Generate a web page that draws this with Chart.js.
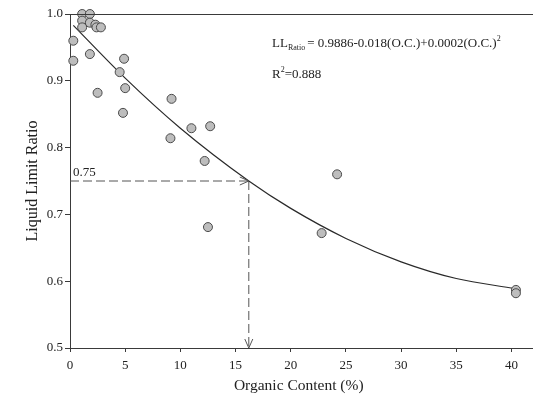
<!doctype html>
<html lang="en">
<head>
<meta charset="UTF-8">
<script src="https://cdn.jsdelivr.net/npm/chart.js@4.4.1/dist/chart.umd.min.js"></script>
<title>Liquid Limit Ratio vs Organic Content</title>
<style>
  *, ::before, ::after { margin: 0; padding: 0; box-sizing: border-box; }
  body { background: #fff; }
  .container { width: 533px; height: 405px; position: relative; }
</style>
</head>
<body>
<div class="container"><canvas id="canvas"></canvas></div>
<script>
// measured points (organic content %, liquid limit ratio)
const organic = [1.1, 1.8, 1.1, 1.8, 1.1, 2.3, 2.4, 2.8, 0.3, 0.3, 1.8, 4.9, 4.5, 5.0, 2.5, 9.2, 4.8,
                 11.0, 12.7, 9.1, 12.2, 12.5, 24.2, 22.8, 40.4, 40.4];
const llRatio = [1.0, 1.0, 0.99, 0.987, 0.98, 0.984, 0.98, 0.98, 0.96, 0.93, 0.94, 0.933, 0.913, 0.889, 0.882, 0.873, 0.852,
                 0.829, 0.832, 0.814, 0.78, 0.681, 0.76, 0.672, 0.587, 0.582];

// fitted curve
const fitX = [0.3, 5, 10, 16.2, 20, 25, 30, 35, 40.3];
const fitY = [0.983, 0.904, 0.829, 0.750, 0.709, 0.664, 0.629, 0.604, 0.589];

// reading of the 0.75 ratio
const readLevel = 0.75;
const readContent = 16.2;

const xTicks = [0, 5, 10, 15, 20, 25, 30, 35, 40];
const yTicks = [0.5, 0.6, 0.7, 0.8, 0.9, 1.0];

const serif = "'Liberation Serif', 'Times New Roman', serif";
const ink = '#3a3a3a';

const points = organic.map((x, i) => ({ x: x, y: llRatio[i] }));
const curve = fitX.map((x, i) => ({ x: x, y: fitY[i] }));

// frame lines running to the right edge, arrow heads, equation text
const extras = {
    id: 'extras',
    afterDatasetsDraw(chart) {
        const ctx = chart.ctx;
        const area = chart.chartArea;
        const xs = chart.scales.x, ys = chart.scales.y;
        ctx.save();
        ctx.strokeStyle = ink;
        ctx.lineWidth = 1;
        ctx.beginPath();
        ctx.moveTo(area.left, area.top + 0.5);
        ctx.lineTo(chart.width, area.top + 0.5);
        ctx.moveTo(area.right - 1, area.bottom + 0.5);
        ctx.lineTo(chart.width, area.bottom + 0.5);
        ctx.stroke();

        const px = xs.getPixelForValue(readContent);
        const py = ys.getPixelForValue(readLevel);
        const pb = ys.getPixelForValue(yTicks[0]);
        ctx.strokeStyle = '#555';
        ctx.beginPath();
        ctx.moveTo(px - 9, py - 4);
        ctx.lineTo(px, py);
        ctx.lineTo(px - 9, py + 4);
        ctx.moveTo(px - 4, pb - 9);
        ctx.lineTo(px, pb);
        ctx.lineTo(px + 4, pb - 9);
        ctx.stroke();

        ctx.fillStyle = '#222';
        ctx.textBaseline = 'alphabetic';
        ctx.font = '13px ' + serif;
        ctx.fillText(readLevel.toFixed(2), area.left + 3, py - 5);

        // equation
        let x = 272, y = 47;
        ctx.font = '13px ' + serif;
        ctx.fillText('LL', x, y);
        x += ctx.measureText('LL').width;
        ctx.font = '8px ' + serif;
        ctx.fillText('Ratio', x, y + 3);
        x += ctx.measureText('Ratio').width + 2;
        ctx.font = '13px ' + serif;
        const eq = '= 0.9886-0.018(O.C.)+0.0002(O.C.)';
        ctx.fillText(eq, x, y);
        x += ctx.measureText(eq).width;
        ctx.font = '8px ' + serif;
        ctx.fillText('2', x, y - 6);

        x = 272; y = 78;
        ctx.font = '13px ' + serif;
        ctx.fillText('R', x, y);
        x += ctx.measureText('R').width;
        ctx.font = '8px ' + serif;
        ctx.fillText('2', x, y - 6);
        x += ctx.measureText('2').width;
        ctx.font = '13px ' + serif;
        ctx.fillText('=0.888', x, y);
        ctx.restore();
    }
};

new Chart(document.getElementById('canvas'), {
    type: 'scatter',
    data: {
        datasets: [
            {
                label: 'Data',
                data: points,
                pointRadius: 4.5,
                pointBackgroundColor: '#bdbdbd',
                pointBorderColor: '#4a4a4a',
                pointBorderWidth: 1,
                clip: false,
                order: 0
            },
            {
                type: 'line',
                label: 'Fit',
                data: curve,
                borderColor: '#2a2a2a',
                borderWidth: 1.2,
                pointRadius: 0,
                cubicInterpolationMode: 'monotone',
                fill: false,
                order: 1
            },
            {
                type: 'line',
                label: 'h',
                data: [{ x: 0, y: readLevel }, { x: readContent, y: readLevel }],
                borderColor: '#555',
                borderWidth: 1,
                borderDash: [9, 4],
                pointRadius: 0,
                fill: false,
                order: 2
            },
            {
                type: 'line',
                label: 'v',
                data: [{ x: readContent, y: readLevel }, { x: readContent, y: yTicks[0] }],
                borderColor: '#555',
                borderWidth: 1,
                borderDash: [9, 4],
                pointRadius: 0,
                fill: false,
                order: 2
            }
        ]
    },
    options: {
        responsive: true,
        maintainAspectRatio: false,
        animation: false,
        layout: { padding: { top: 14, right: 0, left: 0, bottom: 0 } },
        plugins: {
            legend: { display: false },
            tooltip: { enabled: false }
        },
        scales: {
            x: {
                type: 'linear',
                min: 0,
                max: 41.45,
                afterBuildTicks: (s) => { s.ticks = xTicks.map(v => ({ value: v })); },
                afterFit: (s) => { s.height = 57; },
                grid: { drawOnChartArea: false, drawTicks: true, tickLength: 4, color: ink },
                border: { display: true, color: ink, width: 1 },
                ticks: { color: '#222', font: { family: serif, size: 13 }, padding: 6, maxRotation: 0 },
                title: { display: true, text: 'Organic Content (%)', color: '#222',
                         font: { family: serif, size: 15.5 }, padding: { top: 0, bottom: 10 } }
            },
            y: {
                min: 0.5,
                max: 1.0,
                afterBuildTicks: (s) => { s.ticks = yTicks.map(v => ({ value: v })); },
                afterFit: (s) => { s.width = 70; },
                grid: { drawOnChartArea: false, drawTicks: true, tickLength: 5, color: ink },
                border: { display: true, color: ink, width: 1 },
                ticks: { color: '#222', font: { family: serif, size: 13 }, padding: 2,
                         callback: (v) => v.toFixed(1) },
                title: { display: true, text: 'Liquid Limit Ratio', color: '#222',
                         font: { family: serif, size: 16 }, padding: { top: 23, bottom: 0 } }
            }
        }
    },
    plugins: [extras]
});
</script>
</body>
</html>
